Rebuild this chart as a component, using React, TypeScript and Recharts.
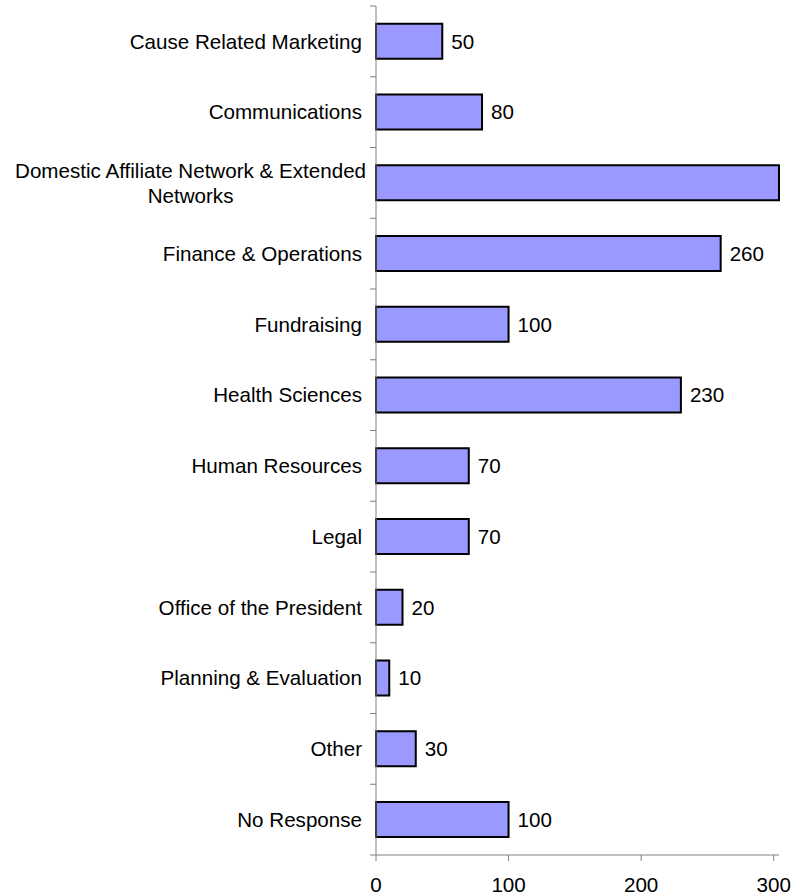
import React from "react";
import { BarChart, Bar, XAxis, YAxis, LabelList } from "recharts";

const categories = [
  "Cause Related Marketing",
  "Communications",
  "Domestic Affiliate Network & Extended Networks",
  "Finance & Operations",
  "Fundraising",
  "Health Sciences",
  "Human Resources",
  "Legal",
  "Office of the President",
  "Planning & Evaluation",
  "Other",
  "No Response",
];
const values = [50, 80, 304, 260, 100, 230, 70, 70, 20, 10, 30, 100];
const valueLabels: (number | null)[] = [50, 80, null, 260, 100, 230, 70, 70, 20, 10, 30, 100];
const xTicks = [0, 100, 200, 300];

const data = categories.map((name, i) => ({ name, value: values[i], shown: valueLabels[i] }));

const W = 800;
const H = 895;
const M_TOP = 6;
const M_RIGHT = 21;
const Y_W = 376;
const X_H = 40;
const FS = 20.6;
const FONT = "'Liberation Sans', Arial, sans-serif";
const AXIS = "#808080";
const BAND = (H - M_TOP - X_H) / categories.length;

function wrap(text: string, maxChars: number): string[] {
  const words = text.split(" ");
  const lines: string[] = [];
  let cur = "";
  for (const w of words) {
    const next = cur ? cur + " " + w : w;
    if (next.length > maxChars && cur) {
      lines.push(cur);
      cur = w;
    } else cur = next;
  }
  if (cur) lines.push(cur);
  return lines;
}

const YTick = (props: any) => {
  const { x, y, payload, index } = props;
  const axisX = x + 14;
  const lines = wrap(String(payload.value), 38);
  const endX = x;
  let textEl;
  if (lines.length === 1) {
    textEl = (
      <text x={endX} y={y} dy="0.355em" textAnchor="end" fontSize={FS} fontFamily={FONT} fill="#000">
        {lines[0]}
      </text>
    );
  } else {
    const longest = Math.max(...lines.map((l) => l.length));
    const cx = endX + 3 - (longest * 9.43) / 2;
    textEl = (
      <text textAnchor="middle" fontSize={FS} fontFamily={FONT} fill="#000">
        {lines.map((l, i) => (
          <tspan key={i} x={cx} y={y + (i - (lines.length - 1) / 2) * 25} dy="0.355em">
            {l}
          </tspan>
        ))}
      </text>
    );
  }
  return (
    <g>
      <line x1={axisX - 6} x2={axisX} y1={y - BAND / 2} y2={y - BAND / 2} stroke={AXIS} strokeWidth={1} />
      {index === categories.length - 1 && (
        <line x1={axisX - 6} x2={axisX} y1={y + BAND / 2} y2={y + BAND / 2} stroke={AXIS} strokeWidth={1} />
      )}
      {textEl}
    </g>
  );
};

export default function App() {
  return (
    <div style={{ position: "absolute", left: 0, top: 0, width: W, height: H, background: "#fff" }}>
      <BarChart
        width={W}
        height={H}
        data={data}
        layout="vertical"
        margin={{ top: M_TOP, right: M_RIGHT, left: 0, bottom: 0 }}
        barCategoryGap="25%"
      >
        <XAxis
          type="number"
          domain={[0, "dataMax"]}
          ticks={xTicks}
          height={X_H}
          stroke={AXIS}
          tickSize={6}
          tickMargin={16}
          tick={{ fontSize: FS, fontFamily: FONT, fill: "#000" }}
        />
        <YAxis
          type="category"
          dataKey="name"
          width={Y_W}
          stroke={AXIS}
          tickLine={false}
          tickSize={6}
          tickMargin={8}
          interval={0}
          tick={<YTick />}
        />
        <Bar dataKey="value" fill="#9999FF" stroke="#000" strokeWidth={2} isAnimationActive={false}>
          <LabelList
            dataKey="shown"
            position="right"
            offset={9}
            fontSize={FS}
            fontFamily={FONT}
            fill="#000"
          />
        </Bar>
      </BarChart>
    </div>
  );
}
